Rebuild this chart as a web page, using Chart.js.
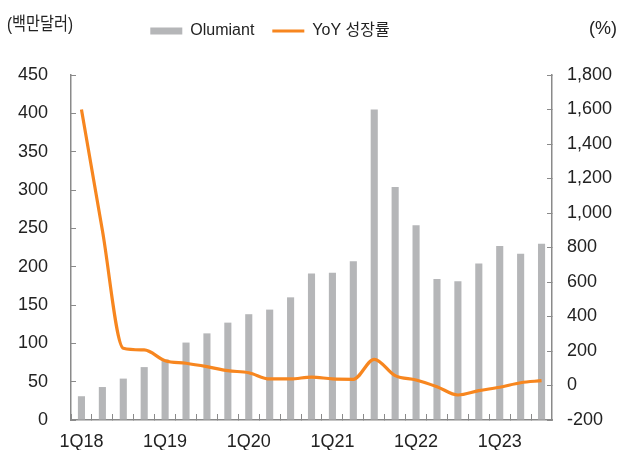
<!DOCTYPE html>
<html>
<head>
<meta charset="utf-8">
<script src="https://cdn.jsdelivr.net/npm/chart.js@4"></script>
<style>
html,body{margin:0;padding:0;background:#fff;}
#wrap{width:636px;height:450px;position:relative;}
</style>
</head>
<body>
<div id="wrap"><canvas id="c" width="636" height="450"></canvas></div>
<script>
const categories = ['1Q18','2Q18','3Q18','4Q18','1Q19','2Q19','3Q19','4Q19','1Q20','2Q20','3Q20','4Q20','1Q21','2Q21','3Q21','4Q21','1Q22','2Q22','3Q22','4Q22','1Q23','2Q23','3Q23'];
const olumiantSales = [31,43,54,69,79,101,113,127,138,144,160,191,192,207,405,304,254,184,181,204,227,217,230];
const yoyGrowth = [1600,900,216,206,144,129,109,86,74,38,38,49,38,36,152,57,32,-7,-55,-30,-10,16,28];
const leftTicks = [0,50,100,150,200,250,300,350,400,450];
const rightTicks = [-200,0,200,400,600,800,1000,1200,1400,1600,1800];
const seriesNames = ['Olumiant','YoY 성장률'];
const unitLeft = '(백만달러)';
const unitRight = '(%)';

const FONT = "'Liberation Sans', Arial, 'Noto Sans CJK KR', sans-serif";
const AXIS_COLOR = '#8a8a8a';
const TEXT_COLOR = '#222';

const unitPlugin = {
  id: 'units',
  beforeInit(chart) {
    const orig = chart.legend.fit;
    chart.legend.fit = function () {
      orig.call(this);
      this.height = 75;
    };
  },
  afterLayout(chart) {
    const lg = chart.legend;
    const curCenter = (lg.left + lg.right) / 2;
    const shift = 270 - curCenter;
    lg.left += shift;
    lg.right += shift;
    lg.top += 5;
    lg.bottom += 5;
  },
  afterDraw(chart) {
    const ctx = chart.ctx;
    ctx.save();
    ctx.fillStyle = TEXT_COLOR;
    ctx.font = "18px " + FONT;
    ctx.textBaseline = 'middle';
    ctx.textAlign = 'left';
    ctx.fillText(unitLeft, 7, 25, 66);
    ctx.fillText(unitRight, 589, 29);
    ctx.restore();
  }
};

function noVPad(s) { s.paddingTop = 0; s.paddingBottom = 0; }

new Chart(document.getElementById('c'), {
  data: {
    labels: categories,
    datasets: [
      {
        type: 'bar',
        label: seriesNames[0],
        data: olumiantSales,
        yAxisID: 'y',
        backgroundColor: '#b5b6b8',
        borderWidth: 0,
        barPercentage: 0.34,
        categoryPercentage: 1,
        pointStyle: 'rect',
        order: 2
      },
      {
        type: 'line',
        label: seriesNames[1],
        data: yoyGrowth,
        yAxisID: 'y1',
        borderColor: '#f7861f',
        backgroundColor: '#f7861f',
        borderWidth: 3.2,
        pointRadius: 0,
        pointStyle: 'line',
        cubicInterpolationMode: 'monotone',
        fill: false,
        order: 1
      }
    ]
  },
  options: {
    responsive: false,
    animation: false,
    devicePixelRatio: 1,
    layout: { padding: 0 },
    plugins: {
      legend: {
        position: 'top',
        labels: {
          usePointStyle: true,
          pointStyleWidth: 32,
          boxHeight: 7,
          padding: 18,
          color: TEXT_COLOR,
          font: { size: 16, family: FONT },
          sort: (a, b) => a.datasetIndex - b.datasetIndex
        }
      },
      tooltip: { enabled: false }
    },
    scales: {
      x: {
        offset: true,
        grid: { display: true, offset: true, drawOnChartArea: false, tickLength: -6, color: AXIS_COLOR, tickColor: AXIS_COLOR },
        border: { display: true, color: AXIS_COLOR, width: 1.5 },
        ticks: {
          autoSkip: false,
          maxRotation: 0,
          padding: 17,
          color: TEXT_COLOR,
          font: { size: 18, family: FONT },
          callback: function (v, i) { return i % 4 === 0 ? categories[i] : ''; }
        },
        afterFit(s) { s.height = 30; }
      },
      y: {
        position: 'left',
        min: 0,
        max: 450,
        afterBuildTicks(s) { s.ticks = leftTicks.map(v => ({ value: v })); },
        grid: { display: true, drawOnChartArea: false, tickLength: -5, color: AXIS_COLOR, tickColor: AXIS_COLOR },
        border: { display: true, color: AXIS_COLOR, width: 1.5 },
        ticks: { padding: 28, color: TEXT_COLOR, font: { size: 18, family: FONT } },
        afterFit(s) { s.width = 71; noVPad(s); }
      },
      y1: {
        position: 'right',
        min: -200,
        max: 1800,
        afterBuildTicks(s) { s.ticks = rightTicks.map(v => ({ value: v })); },
        grid: { display: true, drawOnChartArea: false, tickLength: -5, color: AXIS_COLOR, tickColor: AXIS_COLOR },
        border: { display: true, color: AXIS_COLOR, width: 1.5 },
        ticks: {
          padding: 20,
          color: TEXT_COLOR,
          font: { size: 18, family: FONT },
          callback: function (v) { return v.toLocaleString('en-US'); }
        },
        afterFit(s) { s.width = 84; noVPad(s); }
      }
    }
  },
  plugins: [unitPlugin]
});
</script>
</body>
</html>
